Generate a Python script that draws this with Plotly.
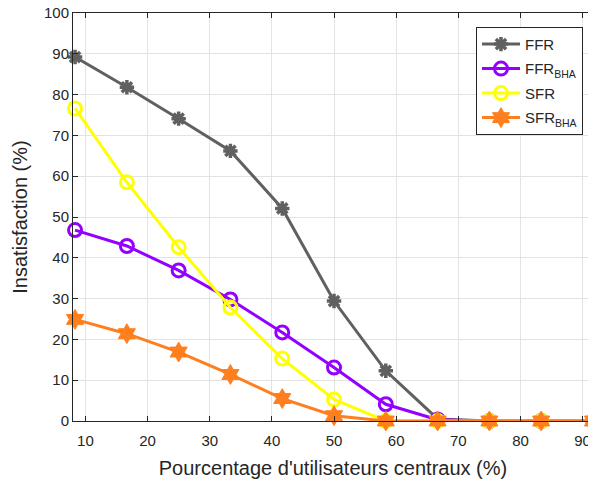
import plotly.graph_objects as go

x_vals = [8.33, 16.67, 25, 33.33, 41.67, 50, 58.33, 66.67, 75, 83.33, 91.67]
ffr = [89.2, 81.8, 74.1, 66.2, 52.1, 29.4, 12.3, 0.5, 0, 0, 0]
ffr_bha = [46.8, 42.9, 36.9, 29.8, 21.7, 13.1, 4.1, 0.3, 0, 0, 0]
sfr = [76.6, 58.5, 42.6, 27.8, 15.3, 5.3, 0, 0, 0, 0, 0]
sfr_bha = [24.9, 21.4, 16.9, 11.4, 5.5, 1.3, 0, 0, 0, 0, 0]

names = ["FFR", "FFR<sub>BHA</sub>", "SFR", "SFR<sub>BHA</sub>"]
colors = ["#606060", "#9400FF", "#FFFF00", "#FF7F1E"]
symbols = ["asterisk-open", "circle-open", "circle-open", "hexagram"]
sizes = [12, 13, 13, 15]
series = [ffr, ffr_bha, sfr, sfr_bha]

fig = go.Figure()
for i, (name, col, sym, sz, ys) in enumerate(zip(names, colors, symbols, sizes, series)):
    fig.add_trace(go.Scatter(
        x=x_vals, y=ys, name=name, mode="lines+markers", cliponaxis=False,
        legendgroup=f"g{i}",
        line=dict(color=col, width=3),
        marker=dict(symbol=sym, size=sz, color=col,
                    line=dict(color=col, width=3.5 if sym == "asterisk-open" else (3 if "open" in sym else 1))),
    ))

axis_common = dict(
    showgrid=True, gridcolor="#e3e3e3", gridwidth=1,
    showline=True, linecolor="#262626", linewidth=1, mirror="ticks",
    ticks="inside", ticklen=5, tickcolor="#262626",
    tickfont=dict(family="Liberation Sans, Arial", size=15, color="#262626"),
    zeroline=False, automargin=False, ticklabeloverflow="allow",
)

# The page body adds an 8px offset; the figure is sized to compensate.
fig.update_layout(
    width=588, height=474,
    margin=dict(l=65, r=3, t=5, b=61),
    paper_bgcolor="white", plot_bgcolor="white",
    font=dict(family="Liberation Sans, Arial", color="#262626"),
    xaxis=dict(range=[8, 91.67], tickvals=[10, 20, 30, 40, 50, 60, 70, 80, 90],
               ticklabelstandoff=6,
               title=dict(text="Pourcentage d'utilisateurs centraux (%)",
                          font=dict(size=20, color="#262626"), standoff=12),
               **axis_common),
    yaxis=dict(range=[0, 100], tickvals=list(range(0, 101, 10)),
               title=dict(text="Insatisfaction (%)",
                          font=dict(size=20, color="#262626"), standoff=10),
               **axis_common),
    legend=dict(x=0.775, y=0.966, xanchor="left", yanchor="top",
                bgcolor="white", bordercolor="#262626", borderwidth=1,
                font=dict(size=15, color="#262626"), tracegroupgap=2,
                itemwidth=38),
    showlegend=True,
)

fig.write_html("out.html")
